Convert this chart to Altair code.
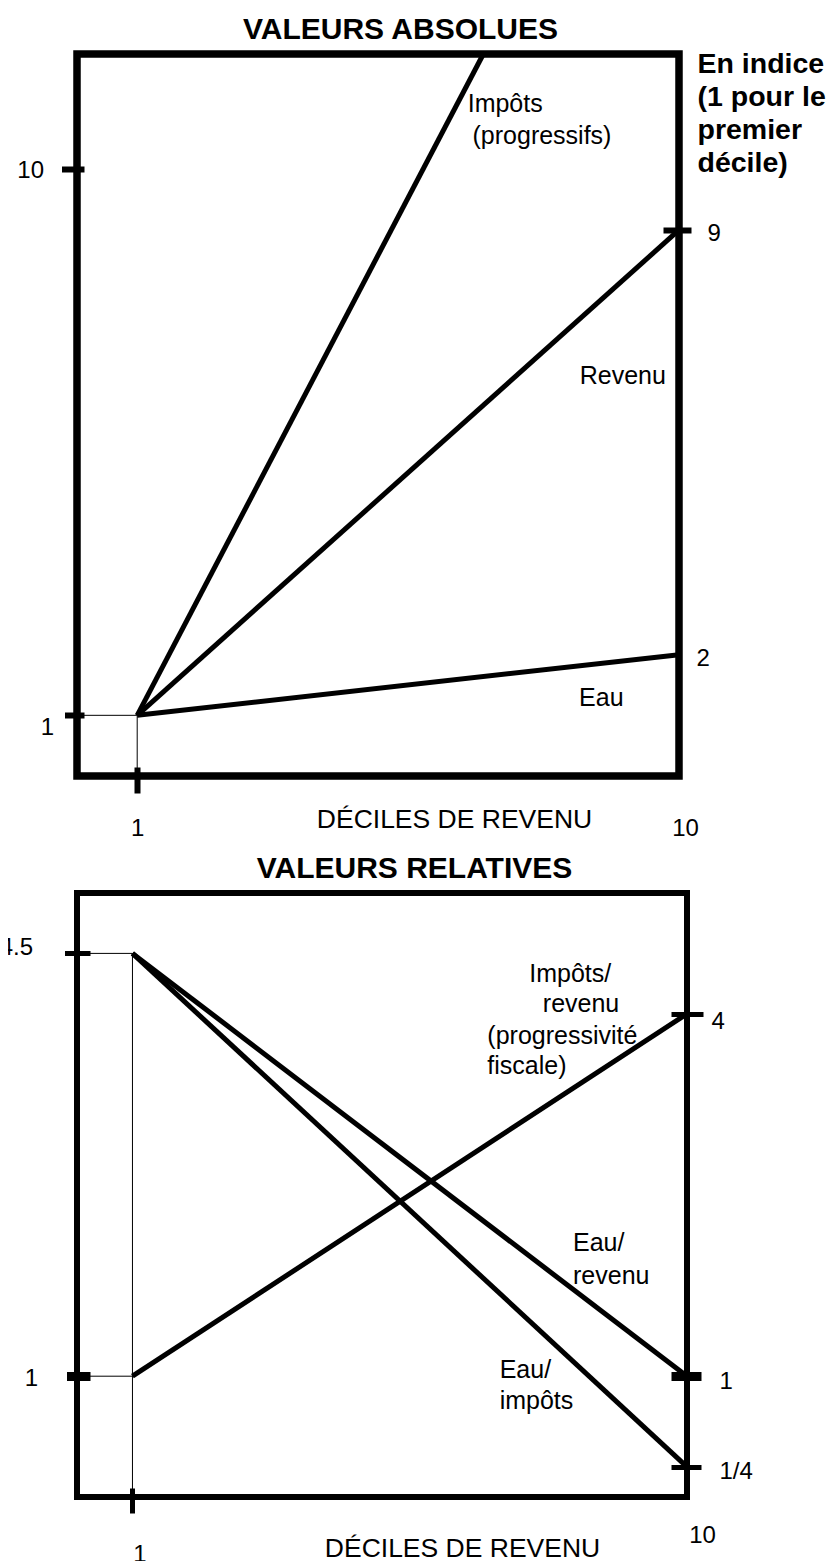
import altair as alt
import pandas as pd

# ---------------- data ----------------
deciles = [1, 10]

# top panel : absolute values, index 1 = first decile
revenu_abs = [1, 9]
eau_abs = [1, 2]
impots_deciles = [1, 6.75]      # the line leaves the frame at the top
impots_abs = [1, 11.9]

# bottom panel : ratios
impots_sur_revenu = [1, 4]
eau_sur_revenu = [4.5, 1]
eau_sur_impots = [4.5, 0.25]

# tick values
top_left_ticks = [1, 10]
top_right_ticks = [2, 9]
bottom_left_ticks = [1, 4.5]
bottom_right_ticks = [4, 1, 0.25]

# annotation texts (position in data units: decile, value)
top_notes = ["Impôts", "(progressifs)", "Revenu", "Eau"]
top_notes_x = [6.49, 6.57, 8.35, 8.34]
top_notes_y = [11.08, 10.55, 6.6, 1.29]

bottom_notes = ["Impôts/", "revenu", "(progressivité", "fiscale)",
                "Eau/", "revenu", "Eau/", "impôts"]
bottom_notes_x = [7.44, 7.66, 6.76, 6.76, 8.15, 8.15, 6.96, 6.96]
bottom_notes_y = [4.33, 4.08, 3.82, 3.57, 2.1, 1.83, 1.05, 0.795]

FONT = "Liberation Sans"
TXT = 24
NOTE = 25

# ---------------- tables ----------------
top_lines = pd.DataFrame({
    "decile": deciles + deciles + impots_deciles,
    "valeur": revenu_abs + eau_abs + impots_abs,
    "serie": ["Revenu"] * 2 + ["Eau"] * 2 + ["Impôts"] * 2,
})
top_guides = pd.DataFrame({
    "x": [0, deciles[0]], "x2": [deciles[0], deciles[0]],
    "y": [revenu_abs[0], revenu_abs[0]], "y2": [revenu_abs[0], 0],
})
top_text = pd.DataFrame({"label": top_notes, "decile": top_notes_x, "valeur": top_notes_y})

bot_lines = pd.DataFrame({
    "decile": deciles * 3,
    "valeur": impots_sur_revenu + eau_sur_revenu + eau_sur_impots,
    "serie": ["Impôts/revenu"] * 2 + ["Eau/revenu"] * 2 + ["Eau/impôts"] * 2,
})
bot_guides = pd.DataFrame({
    "x": [0, 0, deciles[0]], "x2": [deciles[0], deciles[0], deciles[0]],
    "y": [eau_sur_revenu[0], impots_sur_revenu[0], eau_sur_revenu[0]],
    "y2": [eau_sur_revenu[0], impots_sur_revenu[0], 0],
})
bot_text = pd.DataFrame({"label": bottom_notes, "decile": bottom_notes_x, "valeur": bottom_notes_y})


def cond(test, v_true, v_false):
    return {"condition": {"test": test, "value": v_true}, "value": v_false}


common_axis = dict(domain=False, grid=False, tickColor="black", tickCap="butt",
                   labelFont=FONT, labelFontSize=TXT, labelColor="black",
                   labelFlush=False, labelOverlap=False, titleColor="black")
PLAIN = "'' + datum.value"


def title_axis(text, center_x):
    # a top axis carrying only the panel title
    return alt.Axis(orient="top", ticks=False, labels=False, domain=False, grid=False,
                    title=text, titleFont=FONT, titleFontSize=30, titleFontWeight="bold",
                    titleColor="black", titleAngle=0, titleAlign="center",
                    titleBaseline="middle", titleX=center_x, titleY=-25)


# ---------------- top panel ----------------
xs_top = alt.Scale(domain=[0, 10], nice=False, zero=False)
ys_top = alt.Scale(domain=[0, 11.9], nice=False, zero=False)

x_top_axis = alt.Axis(orient="bottom", values=deciles, offset=-9,
                      tickSize=26, tickWidth=6,
                      tickOpacity=cond("datum.value == 10", 0, 1),
                      labelPadding=23, labelExpr=PLAIN,
                      labelOffset=cond("datum.value == 10", 6, 0),
                      title="DÉCILES DE REVENU", titleFont=FONT, titleFontSize=26.5,
                      titleFontWeight="normal", titleX=377, titleY=52,
                      titleBaseline="middle", titleAlign="center", **common_axis)
y_top_left = alt.Axis(orient="left", values=top_left_ticks, offset=-7,
                      tickSize=cond("datum.value == 1", 19.5, 22.5), tickWidth=6,
                      labelPadding=cond("datum.value == 1", 11, 18),
                      labelOffset=cond("datum.value == 1", 12, 1), labelExpr=PLAIN,
                      title=None, **common_axis)
y_top_right = alt.Axis(orient="right", values=top_right_ticks, offset=-16,
                       tickSize=28, tickWidth=6,
                       tickOpacity=cond("datum.value == 2", 0, 1),
                       labelPadding=cond("datum.value == 2", 5, 16),
                       labelOffset=4, labelExpr=PLAIN,
                       title=["En indice", "(1 pour le", "premier", "décile)"],
                       titleFont=FONT, titleFontSize=28.5, titleFontWeight="bold",
                       titleAngle=0, titleAlign="left", titleBaseline="top",
                       titleX=34, titleY=-5, titleLineHeight=33, **common_axis)

top_guides_layer = alt.Chart(top_guides).mark_rule(color="black", strokeWidth=1).encode(
    x=alt.X("x:Q", scale=xs_top, axis=x_top_axis),
    x2="x2:Q",
    y=alt.Y("y:Q", scale=ys_top, axis=y_top_left),
    y2="y2:Q",
)
top_lines_layer = alt.Chart(top_lines).mark_line(color="black", strokeWidth=5, strokeCap="butt").encode(
    x=alt.X("decile:Q", scale=xs_top, axis=None),
    y=alt.Y("valeur:Q", scale=ys_top, axis=None),
    detail="serie:N",
)
top_text_layer = alt.Chart(top_text).mark_text(
    font=FONT, fontSize=NOTE, align="left", baseline="middle", color="black"
).encode(
    x=alt.X("decile:Q", scale=xs_top, axis=title_axis("VALEURS ABSOLUES", 323)),
    y=alt.Y("valeur:Q", scale=ys_top, axis=y_top_right),
    text="label:N",
)
top = alt.layer(top_guides_layer, top_lines_layer, top_text_layer).resolve_scale(
    x="independent", y="independent"
).properties(
    width=602, height=722,
    view=alt.ViewBackground(stroke="black", strokeWidth=7.5),
)

# ---------------- bottom panel ----------------
xs_bot = alt.Scale(domain=[0.1, 10], nice=False, zero=False)
ys_bot = alt.Scale(domain=[0, 5], nice=False, zero=False)

x_bot_axis = alt.Axis(orient="bottom", values=deciles, offset=-9,
                      tickSize=25, tickWidth=5,
                      tickOpacity=cond("datum.value == 10", 0, 1),
                      labelPadding=cond("datum.value == 10", 10, 29),
                      labelOffset=cond("datum.value == 10", 15, 7), labelExpr=PLAIN,
                      title="DÉCILES DE REVENU", titleFont=FONT, titleFontSize=26.5,
                      titleFontWeight="normal", titleX=385, titleY=60,
                      titleBaseline="middle", titleAlign="center", **common_axis)
y_bot_left = alt.Axis(orient="left", values=bottom_left_ticks, offset=-13,
                      tickSize=cond("datum.value == 1", 23.5, 25.5),
                      tickWidth=cond("datum.value == 1", 9, 5),
                      labelPadding=cond("datum.value == 1", 29, 32),
                      labelOffset=cond("datum.value == 1", 2, -6), labelExpr=PLAIN,
                      title=None, **common_axis)
y_bot_right = alt.Axis(orient="right", values=bottom_right_ticks, offset=-16,
                       tickSize=cond("datum.value == 4", 32, 30),
                       tickWidth=cond("datum.value == 1", 9, 5),
                       labelPadding=cond("datum.value == 4", 8, 18),
                       labelOffset=cond("datum.value == 4", 8, 5),
                       labelExpr="datum.value == 0.25 ? '1/4' : '' + datum.value",
                       title=None, **common_axis)

bot_guides_layer = alt.Chart(bot_guides).mark_rule(color="black", strokeWidth=1).encode(
    x=alt.X("x:Q", scale=xs_bot, axis=x_bot_axis),
    x2="x2:Q",
    y=alt.Y("y:Q", scale=ys_bot, axis=y_bot_left),
    y2="y2:Q",
)
bot_lines_layer = alt.Chart(bot_lines).mark_line(color="black", strokeWidth=5, strokeCap="butt").encode(
    x=alt.X("decile:Q", scale=xs_bot, axis=None),
    y=alt.Y("valeur:Q", scale=ys_bot, axis=None),
    detail="serie:N",
)
bot_text_layer = alt.Chart(bot_text).mark_text(
    font=FONT, fontSize=NOTE, align="left", baseline="middle", color="black"
).encode(
    x=alt.X("decile:Q", scale=xs_bot, axis=title_axis("VALEURS RELATIVES", 337)),
    y=alt.Y("valeur:Q", scale=ys_bot, axis=y_bot_right),
    text="label:N",
)
bottom = alt.layer(bot_guides_layer, bot_lines_layer, bot_text_layer).resolve_scale(
    x="independent", y="independent"
).properties(
    width=610, height=604,
    view=alt.ViewBackground(stroke="black", strokeWidth=6),
)

chart = alt.vconcat(top, bottom, spacing=117, bounds="flush").properties(
    padding={"left": -12, "top": 2, "right": -1, "bottom": 0}
).configure(background="white")

chart.save("out.html", embed_options={"renderer": "svg", "actions": False})
